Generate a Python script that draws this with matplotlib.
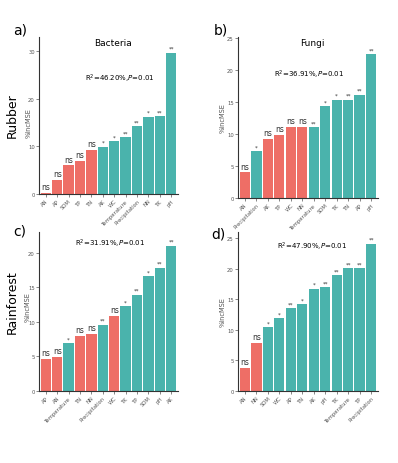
import matplotlib
matplotlib.use("Agg")
import matplotlib.pyplot as plt

RED = "#EE6E66"
TEAL = "#4AB3AC"

# a) Rubber / Bacteria
A_VARS = ["AN", "AP", "SOM", "TP", "TN", "AK", "WC", "Temperature", "Precipitation", "NN", "TK", "pH"]
A_VALS = [0.2, 3.0, 6.0, 7.0, 9.3, 9.9, 11.1, 11.9, 14.3, 16.2, 16.3, 29.7]
A_SIG = ["ns", "ns", "ns", "ns", "ns", "*", "*", "**", "**", "*", "**", "**"]

# b) Rubber / Fungi
B_VARS = ["AN", "Precipitation", "AK", "TP", "WC", "NN", "Temperature", "SOM", "TK", "TN", "AP", "pH"]
B_VALS = [4.0, 7.3, 9.2, 9.8, 11.1, 11.1, 11.1, 14.4, 15.4, 15.4, 16.2, 22.5]
B_SIG = ["ns", "*", "ns", "ns", "ns", "ns", "**", "*", "*", "**", "**", "**"]

# c) Rainforest / Bacteria
C_VARS = ["AP", "AN", "Temperature", "TN", "NN", "Precipitation", "WC", "TK", "TP", "SOM", "pH", "AK"]
C_VALS = [4.6, 4.9, 6.9, 8.0, 8.2, 9.6, 10.8, 12.3, 13.9, 16.6, 17.8, 21.0]
C_SIG = ["ns", "ns", "*", "ns", "ns", "**", "ns", "*", "**", "*", "**", "**"]

# d) Rainforest / Fungi
D_VARS = ["AN", "NN", "SOM", "WC", "AP", "TN", "AK", "pH", "TK", "Temperature", "TP", "Precipitation"]
D_VALS = [3.7, 7.9, 10.4, 11.9, 13.5, 14.2, 16.7, 17.0, 18.9, 20.1, 20.1, 24.1]
D_SIG = ["ns", "ns", "*", "*", "**", "*", "*", "**", "**", "**", "**", "**"]

R2_TEXT = ["46.20%", "36.91%", "31.91%", "47.90%"]

W, H = 398, 464
fig = plt.figure(figsize=(W / 100, H / 100), dpi=100)


def box(l, t, r, b):
    # пиксели → доли фигуры
    return [l / W, 1 - b / H, (r - l) / W, (b - t) / H]


def panel(rect, names, vals, sig, ymax, step, title, r2, r2pos, ylab_xy):
    ax = fig.add_axes(rect)
    x = range(len(names))
    colors = [RED if s == "ns" else TEAL for s in sig]
    ax.bar(x, vals, width=0.9, color=colors, edgecolor="none")
    for i, (v, s) in enumerate(zip(vals, sig)):
        if s == "ns":
            ax.text(i, v + ymax * 0.012, s, ha="center", va="bottom", fontsize=5.5, color="#333333")
        else:
            ax.text(i, v + ymax * 0.012, s, ha="center", va="bottom", fontsize=4, color="#333333")
    ax.set_xlim(-0.6, len(names) - 0.4)
    ax.set_ylim(0, ymax)
    ax.set_yticks([t for t in range(0, int(ymax) + 1, step)])
    ax.set_xticks(list(x))
    ax.set_xticklabels(names, rotation=45, ha="right", rotation_mode="anchor", fontsize=3.8, color="#555555")
    ax.tick_params(axis="y", labelsize=3.8, colors="#555555", length=2, width=0.5, pad=1)
    ax.tick_params(axis="x", length=2, width=0.5, pad=1, colors="#555555")
    for sp in ("top", "right"):
        ax.spines[sp].set_visible(False)
    for sp in ("left", "bottom"):
        ax.spines[sp].set_color("#333333")
        ax.spines[sp].set_linewidth(0.8)
    # подпись оси ставим между тиками, чтобы не налезала на цифры
    ax.set_ylabel("%IncMSE", fontsize=4.8, color="#555555")
    ax.yaxis.set_label_coords(*ylab_xy)
    if title:
        ax.text(0.53, 0.965, title, transform=ax.transAxes, ha="center", va="center", fontsize=6.5)
    ax.text(r2pos[0], r2pos[1], rf"R$^2$={r2},$P$=0.01", transform=ax.transAxes,
            ha="center", va="center", fontsize=5)
    return ax


panel(box(39, 38, 178, 195), A_VARS, A_VALS, A_SIG, 33, 10, "Bacteria", R2_TEXT[0], (0.58, 0.74), (-0.05, 0.46))
panel(box(238, 38, 378, 199), B_VARS, B_VALS, B_SIG, 25.2, 5, "Fungi", R2_TEXT[1], (0.51, 0.77), (-0.09, 0.5))
panel(box(39, 233, 178, 392), C_VARS, C_VALS, C_SIG, 23, 5, None, R2_TEXT[2], (0.51, 0.93), (-0.06, 0.537))
panel(box(238, 233, 378, 392), D_VARS, D_VALS, D_SIG, 26, 5, None, R2_TEXT[3], (0.53, 0.91), (-0.09, 0.5))

# подписи панелей и строк
for lbl, px, py in [("a)", 20, 30), ("b)", 221, 30), ("c)", 20, 232), ("d)", 218, 235)]:
    fig.text(px / W, 1 - py / H, lbl, ha="center", va="center", fontsize=10)
fig.text(12 / W, 1 - 116 / H, "Rubber", rotation=90, ha="center", va="center", fontsize=9)
fig.text(12 / W, 1 - 302 / H, "Rainforest", rotation=90, ha="center", va="center", fontsize=9)

fig.savefig("out.png", dpi=100)
